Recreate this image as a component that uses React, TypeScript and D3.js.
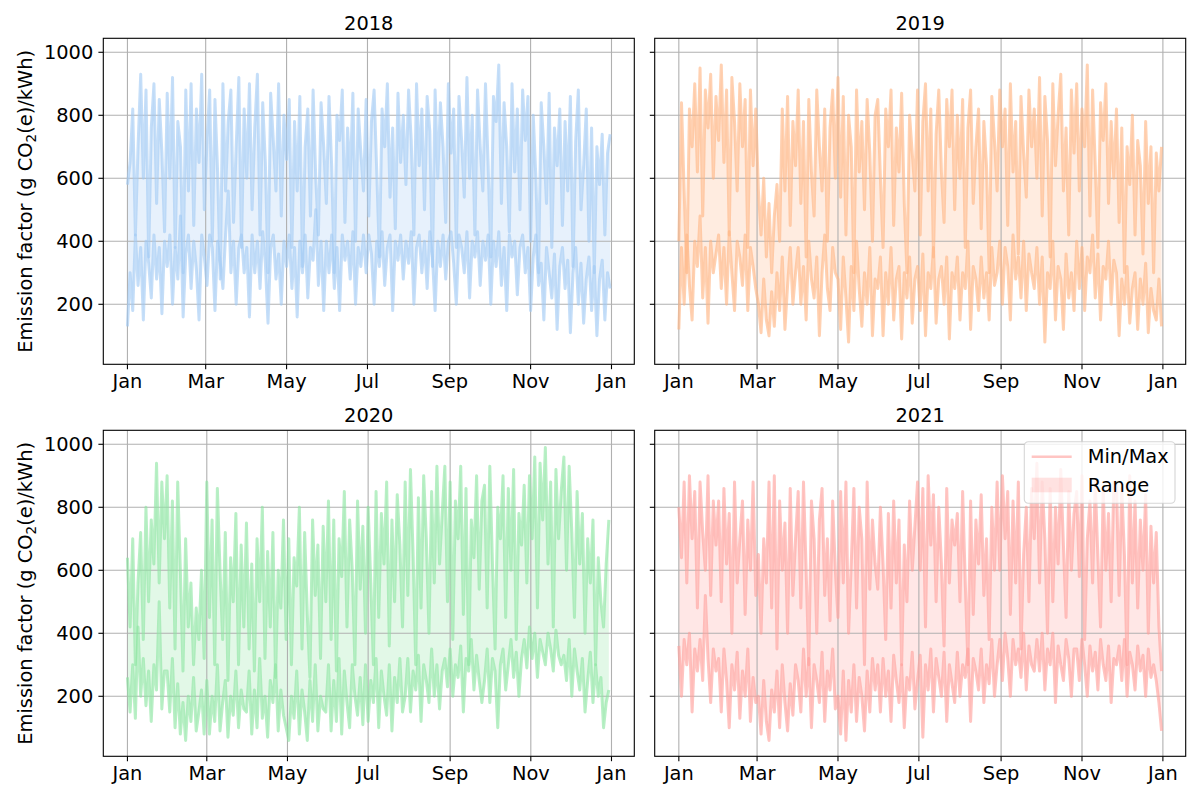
import React from "react";
import * as d3 from "d3";

// daily min / max emission factor, sampled every 2 days from Jan 1
const STEP_DAYS = 2;

const max2018 = [
  580, 650, 820, 420, 700, 930, 600, 880, 350, 760, 900, 520, 850, 680, 430,
  870, 600, 920, 380, 780, 700, 300, 880, 560, 900, 450, 820, 650, 930, 500,
  720, 880, 400, 850, 620, 280, 900, 560, 780, 880, 460, 700, 920, 380, 820,
  600, 900, 500, 760, 930, 420, 840, 650, 300, 870, 720, 560, 900, 480, 800,
  660, 850, 380, 780, 560, 860, 320, 700, 820, 480, 880, 600, 420, 840, 700,
  520, 860, 640, 300, 800, 720, 880, 460, 760, 600, 870, 400, 820, 680, 560,
  850, 480, 780, 880, 620, 350, 820, 700, 900, 540, 760, 440, 870, 650, 800,
  580, 880, 720, 420, 900, 640, 820, 500, 860, 750, 320, 880, 600, 840, 700,
  460, 900, 680, 820, 380, 860, 720, 540, 920, 600, 800, 420, 880, 700, 560,
  900, 640, 350, 860, 780, 960, 520, 840, 700, 430, 900, 620, 820, 500, 880,
  720, 860, 400, 800, 600, 300, 840, 700, 520, 870, 380, 760, 640, 820, 450,
  780, 560, 860, 320, 720, 880, 500, 640, 820, 400, 760, 300, 700, 580, 740,
  420, 680, 740,
];
const min2018 = [
  130, 300, 180, 420, 260, 380, 150, 400, 330, 220, 420, 280, 380, 170, 400,
  320, 420, 200, 380, 280, 480, 160, 360, 420, 250, 400, 310, 150, 420, 350,
  260, 420, 380, 180, 400, 330, 250, 420, 560, 300, 400, 200, 380, 420, 300,
  380, 160, 420, 300, 400, 250, 430, 330, 140, 380, 420, 280, 360, 200, 400,
  320, 420, 250, 380, 160, 400, 300, 420, 220, 380, 340, 500, 260, 400, 180,
  400, 300, 420, 250, 380, 180, 420, 340, 400, 280, 430, 200, 380, 320, 420,
  300, 420, 360, 200, 400, 320, 430, 260, 380, 420, 180, 400, 340, 420, 280,
  400, 330, 430, 200, 380, 420, 300, 400, 250, 430, 350, 180, 400, 320, 420,
  280, 400, 430, 330, 200, 420, 380, 300, 430, 220, 400, 350, 430, 260, 400,
  340, 420, 200, 400, 320, 430, 260, 380, 180, 420, 350, 400, 230, 380, 420,
  300, 380, 180, 350, 420, 260, 330, 150, 380, 300, 220, 360, 120, 320, 380,
  250, 340, 110, 300, 380, 200, 330, 140, 280, 350, 180, 320, 100, 280, 340,
  150, 300, 250,
];

const max2019 = [
  400, 840, 560, 300, 820, 700, 900, 620, 950, 480, 880, 760, 930, 600, 860,
  720, 960, 650, 880, 420, 920, 780, 560, 900, 700, 850, 380, 880, 640, 820,
  560, 420, 600, 350, 520, 300, 480, 580, 400, 820, 560, 860, 450, 780, 640,
  880, 520, 780, 350, 850, 620, 480, 880, 700, 560, 820, 400, 760, 880, 600,
  920, 540, 860, 420, 800, 700, 300, 880, 620, 780, 500, 850, 680, 400, 800,
  850, 600, 380, 820, 700, 880, 450, 760, 620, 870, 520, 300, 800, 680, 560,
  880, 420, 780, 900, 560, 820, 350, 740, 880, 620, 460, 850, 700, 880, 500,
  800, 600, 850, 380, 760, 880, 520, 700, 820, 440, 780, 640, 300, 860, 720,
  560, 880, 700, 820, 450, 900, 620, 780, 360, 860, 680, 540, 880, 700, 820,
  600, 920, 480, 860, 720, 350, 900, 640, 800, 930, 560, 760, 420, 880, 680,
  900, 560, 820, 700, 960, 480, 880, 640, 380, 840, 720, 900, 520, 780, 600,
  820, 460, 760, 300, 700, 580, 800, 420, 720, 640, 360, 780, 520, 700, 300,
  680, 560, 700,
];
const min2019 = [
  120, 380, 200, 420, 260, 150, 400, 320, 480, 220, 380, 140, 400, 300, 360,
  420, 250, 380, 200, 430, 300, 180, 400, 350, 260, 420, 180, 380, 320, 250,
  200, 110, 280, 150, 100, 240, 130, 300, 180, 350, 120, 260, 380, 200, 300,
  380, 200, 320, 150, 400, 280, 220, 350, 100, 300, 420, 250, 180, 380, 300,
  280, 120, 350, 220, 80, 320, 180, 400, 250, 130, 300, 200, 380, 100, 280,
  250, 350, 100, 300, 200, 380, 150, 280, 320, 90, 300, 220, 350, 140, 280,
  320, 180, 360, 100, 300, 250, 380, 140, 280, 320, 200, 350, 90, 300, 250,
  350, 150, 300, 250, 400, 120, 320, 280, 180, 350, 220, 300, 150, 380, 260,
  300, 400, 200, 380, 320, 150, 420, 280, 350, 220, 400, 180, 360, 300, 250,
  380, 200, 350, 80, 300, 250, 400, 150, 320, 280, 120, 360, 220, 300, 180,
  400, 250, 380, 180, 350, 300, 420, 220, 360, 150, 320, 280, 400, 200, 340,
  300, 100, 280, 200, 320, 140, 250, 300, 120, 280, 200, 330, 110, 250, 180,
  150, 280, 130,
];

const max2020 = [
  640, 420, 700, 300, 560, 720, 380, 800, 500, 760, 620, 940, 560, 880, 700,
  900, 480, 820, 350, 880, 600, 280, 700, 420, 560, 300, 480, 380, 600, 320,
  880, 450, 760, 300, 860, 600, 380, 720, 250, 640, 500, 780, 300, 680, 420,
  750, 350, 620, 280, 700, 500, 800, 320, 660, 420, 720, 260, 600, 480, 760,
  380, 700, 300, 640, 550, 800, 350, 720, 460, 260, 760, 520, 680, 320, 740,
  500, 820, 380, 760, 280, 700, 580, 850, 420, 760, 600, 300, 820, 540, 740,
  400, 800, 560, 300, 850, 450, 780, 620, 880, 360, 760, 500, 840, 680, 420,
  880, 520, 920, 650, 300, 830, 480, 900, 700, 400, 850, 560, 930, 620, 780,
  930, 500, 880, 380, 820, 700, 930, 460, 860, 300, 760, 640, 900, 540, 820,
  870, 480, 930, 620, 350, 800, 700, 900, 450, 860, 600, 920, 380, 780, 680,
  870, 560, 900, 700, 960, 480, 940, 760, 990, 620, 880, 420, 920, 700, 850,
  960, 600, 930, 720, 450, 850, 620, 780, 400, 700, 560, 760, 300, 640, 500,
  420, 620, 760,
];
const min2020 = [
  260, 150, 300, 130, 420, 200, 320, 170, 280, 120, 300, 220, 500, 160, 280,
  280, 150, 320, 100, 240, 80, 180, 60, 200, 120, 260, 90, 150, 220, 80,
  250, 80, 200, 120, 300, 90, 180, 250, 70, 200, 140, 280, 100, 220, 160,
  150, 280, 80, 220, 100, 320, 130, 200, 70, 250, 180, 300, 90, 220, 140,
  100, 60, 200, 130, 280, 80, 220, 150, 60, 250, 120, 300, 90, 200, 160,
  150, 300, 90, 250, 120, 320, 80, 280, 180, 100, 300, 200, 140, 260, 110,
  300, 120, 250, 180, 320, 100, 280, 200, 140, 300, 90, 260, 180, 320, 150,
  200, 320, 150, 280, 220, 330, 120, 300, 250, 180, 350, 200, 300, 160, 280,
  320, 230, 350, 200, 300, 260, 360, 150, 320, 280, 380, 220, 330, 250, 180,
  250, 350, 180, 320, 280, 100, 300, 350, 220, 300, 380, 260, 340, 200, 320,
  380, 290, 420, 320, 400, 260, 380, 340, 300, 400, 350, 280, 410, 330, 300,
  330, 250, 380, 200, 350, 280, 220, 320, 150, 250, 340, 180, 300, 200, 260,
  100, 180, 220,
];

const max2021 = [
  800, 640, 880, 560, 900, 700, 850, 480, 880, 720, 600, 900, 520, 820, 680,
  820, 500, 860, 620, 780, 400, 880, 560, 700, 820, 460, 760, 600, 880, 520,
  650, 400, 700, 560, 880, 480, 900, 350, 820, 600, 750, 400, 860, 520, 700,
  850, 480, 880, 600, 300, 820, 700, 400, 760, 860, 520, 700, 440, 820, 600,
  450, 850, 560, 880, 400, 620, 860, 480, 800, 700, 300, 880, 540, 760, 620,
  540, 800, 620, 380, 780, 480, 820, 560, 760, 300, 680, 500, 820, 600, 740,
  880, 600, 860, 420, 900, 680, 840, 500, 800, 620, 360, 860, 560, 760, 680,
  780, 500, 850, 560, 300, 820, 460, 760, 620, 840, 520, 700, 380, 800, 600,
  880, 600, 900, 700, 850, 460, 820, 560, 880, 350, 650, 800, 500, 860, 700,
  940, 560, 880, 700, 400, 860, 500, 800, 620, 920, 680, 450, 850, 600, 780,
  850, 580, 900, 380, 700, 820, 560, 880, 640, 420, 860, 600, 780, 500, 880,
  880, 520, 860, 650, 300, 900, 560, 820, 480, 760, 600, 840, 400, 740, 560,
  720, 420, 280,
];
const min2021 = [
  360, 200, 380, 300, 400, 150, 350, 280, 380, 250, 520, 320, 180, 350, 280,
  320, 150, 350, 250, 100, 300, 220, 340, 130, 280, 200, 350, 120, 260, 180,
  200, 80, 250, 120, 60, 220, 150, 280, 100, 300, 180, 90, 240, 140, 300,
  250, 150, 350, 200, 320, 100, 300, 250, 180, 340, 120, 280, 220, 350, 160,
  200, 80, 280, 60, 250, 150, 300, 120, 260, 200, 90, 280, 150, 320, 220,
  300, 150, 320, 200, 280, 120, 330, 250, 180, 300, 100, 260, 220, 340, 160,
  250, 330, 70, 300, 220, 350, 150, 320, 260, 200, 340, 120, 300, 240, 180,
  340, 200, 300, 260, 350, 120, 320, 280, 220, 350, 180, 300, 240, 380, 200,
  300, 380, 250, 400, 320, 200, 380, 300, 350, 260, 400, 220, 360, 300, 280,
  380, 280, 400, 220, 350, 300, 400, 180, 360, 300, 250, 380, 320, 200, 350,
  350, 250, 380, 300, 200, 360, 280, 340, 220, 380, 300, 250, 360, 180, 320,
  300, 360, 250, 380, 200, 340, 300, 220, 360, 280, 330, 200, 350, 260, 300,
  250, 180, 90,
];

const YEARS = [2018, 2019, 2020, 2021];
const MINS = [min2018, min2019, min2020, min2021];
const MAXS = [max2018, max2019, max2020, max2021];
const COLORS = ["#a1c9f4", "#ffb482", "#8de5a1", "#ff9f9b"];
const Y_TICKS = [200, 400, 600, 800, 1000];
const Y_DOMAIN: [number, number] = [9.5, 1044.4];

const FONT = "DejaVu Sans, sans-serif";
const FS = 19.4;
const PW = 531;
const PH = 326;
const LEFTS = [103.3, 654.7];
const TOPS = [38.3, 430.3];

interface PanelProps {
  idx: number;
  year: number;
  mins: number[];
  maxs: number[];
  color: string;
  left: number;
  top: number;
  showYLabels: boolean;
  showLegend: boolean;
}

const Panel: React.FC<PanelProps> = ({ idx, year, mins, maxs, color, left, top, showYLabels, showLegend }) => {
  const start = new Date(year, 0, 1);
  const end = new Date(year, 11, 31);
  const pad = (+end - +start) * 0.05;
  const x = d3
    .scaleTime()
    .domain([new Date(+start - pad), new Date(+end + pad)])
    .range([0, PW]);
  const y = d3.scaleLinear().domain(Y_DOMAIN).range([PH, 0]);

  const dates = maxs.map((_, i) => d3.timeDay.offset(start, i * STEP_DAYS));
  const area = d3
    .area<number>()
    .x((_, i) => x(dates[i]))
    .y0((_, i) => y(mins[i]))
    .y1((d) => y(d));
  const line = d3
    .line<number>()
    .x((_, i) => x(dates[i]))
    .y((d) => y(d));

  const xTicks = d3.timeMonth.every(2)!.range(start, new Date(year + 1, 0, 2));
  const fmt = d3.timeFormat("%b");
  const clipId = `clip-${idx}`;

  return (
    <g transform={`translate(${left},${top})`}>
      <defs>
        <clipPath id={clipId}>
          <rect width={PW} height={PH} />
        </clipPath>
      </defs>
      <g clipPath={`url(#${clipId})`}>
        <path d={area(maxs) ?? ""} fill={color} fillOpacity={0.25} />
        {xTicks.map((t, i) => (
          <line key={"gx" + i} x1={x(t)} x2={x(t)} y1={0} y2={PH} stroke="#b0b0b0" strokeWidth={1.1} />
        ))}
        {Y_TICKS.map((t) => (
          <line key={"gy" + t} x1={0} x2={PW} y1={y(t)} y2={y(t)} stroke="#b0b0b0" strokeWidth={1.1} />
        ))}
        <path d={line(mins) ?? ""} fill="none" stroke={color} strokeOpacity={0.62} strokeWidth={3} strokeLinejoin="round" />
        <path d={line(maxs) ?? ""} fill="none" stroke={color} strokeOpacity={0.62} strokeWidth={3} strokeLinejoin="round" />
      </g>
      <rect width={PW} height={PH} fill="none" stroke="#000" strokeWidth={1.1} />

      {xTicks.map((t, i) => (
        <g key={"xt" + i} transform={`translate(${x(t)},${PH})`}>
          <line y2={4.9} stroke="#000" strokeWidth={1.1} />
          <text y={24} textAnchor="middle" fontFamily={FONT} fontSize={FS} fill="#000">
            {fmt(t)}
          </text>
        </g>
      ))}
      {Y_TICKS.map((t) => (
        <g key={"yt" + t} transform={`translate(0,${y(t)})`}>
          <line x2={-4.9} stroke="#000" strokeWidth={1.1} />
          {showYLabels && (
            <text x={-10} dy="0.36em" textAnchor="end" fontFamily={FONT} fontSize={FS} fill="#000">
              {t}
            </text>
          )}
        </g>
      ))}

      <text x={PW / 2} y={-8.3} textAnchor="middle" fontFamily={FONT} fontSize={FS} fill="#000">
        {year}
      </text>

      {showYLabels && (
        <text
          transform={`translate(${31.5 - left},${PH / 2}) rotate(-90)`}
          textAnchor="middle"
          fontFamily={FONT}
          fontSize={FS}
          fill="#000"
        >
          <tspan>Emission factor (g CO</tspan>
          <tspan fontSize={FS * 0.7} dy={4}>2</tspan>
          <tspan dy={-4}>(e)/kWh)</tspan>
        </text>
      )}

      {showLegend && (
        <g transform={`translate(${PW - 10.7 - 150.7},11.4)`}>
          <rect width={150.7} height={61.6} rx={4} fill="#fff" fillOpacity={0.8} stroke="#cccccc" strokeOpacity={0.8} strokeWidth={1.1} />
          <line x1={7.4} x2={47.4} y1={15} y2={15} stroke={color} strokeOpacity={0.6} strokeWidth={2.6} />
          <text x={63.4} y={21.6} fontFamily={FONT} fontSize={FS} fill="#000">
            Min/Max
          </text>
          <rect x={7.4} y={36} width={40} height={14.6} fill={color} fillOpacity={0.3} />
          <text x={63.4} y={50.6} fontFamily={FONT} fontSize={FS} fill="#000">
            Range
          </text>
        </g>
      )}
    </g>
  );
};

export default function App() {
  return (
    <svg
      width={1200}
      height={800}
      style={{ position: "absolute", left: 0, top: 0, background: "#fff" }}
    >
      <rect width={1200} height={800} fill="#fff" />
      {YEARS.map((year, i) => (
        <Panel
          key={year}
          idx={i}
          year={year}
          mins={MINS[i]}
          maxs={MAXS[i]}
          color={COLORS[i]}
          left={LEFTS[i % 2]}
          top={TOPS[Math.floor(i / 2)]}
          showYLabels={i % 2 === 0}
          showLegend={i === 3}
        />
      ))}
    </svg>
  );
}
